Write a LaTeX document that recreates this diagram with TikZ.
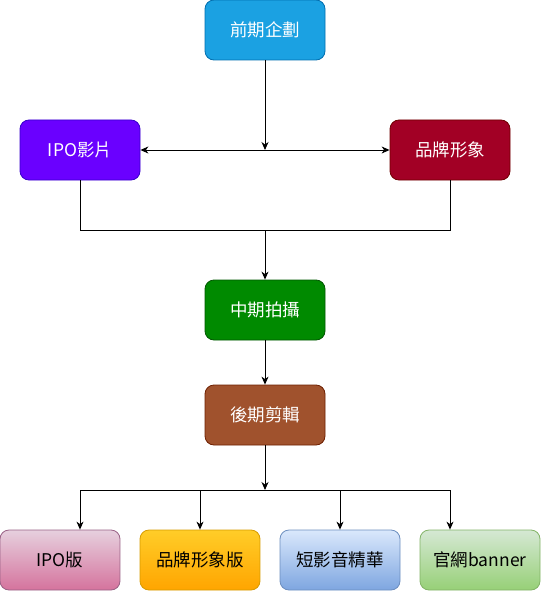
\documentclass[tikz,border=0pt]{standalone}
\usepackage{fontspec}
\setmainfont{Noto Sans CJK TC}
\usetikzlibrary{arrows.meta,calc}
\definecolor{c1f}{HTML}{1BA1E2}\definecolor{c1s}{HTML}{006EAF}
\definecolor{c2f}{HTML}{6A00FF}\definecolor{c2s}{HTML}{3700CC}
\definecolor{c3f}{HTML}{A20025}\definecolor{c3s}{HTML}{6F0000}
\definecolor{c4f}{HTML}{008A00}\definecolor{c4s}{HTML}{005700}
\definecolor{c5f}{HTML}{A0522D}\definecolor{c5s}{HTML}{6D1F00}
\definecolor{pkt}{HTML}{E6D0DE}\definecolor{pkb}{HTML}{D5739D}\definecolor{pks}{HTML}{996185}
\definecolor{ort}{HTML}{FFCD28}\definecolor{orb}{HTML}{FFA500}\definecolor{ors}{HTML}{D79B00}
\definecolor{blt}{HTML}{DAE8FC}\definecolor{blb}{HTML}{7EA6E0}\definecolor{bls}{HTML}{6C8EBF}
\definecolor{grt}{HTML}{D5E8D4}\definecolor{grb}{HTML}{97D077}\definecolor{grs}{HTML}{82B366}
\tikzset{
  box/.style={rounded corners=9pt, minimum width=120pt, minimum height=60pt,
    inner sep=0pt, font=\fontsize{17.5pt}{21pt}\selectfont, line width=0.8pt},
  dark/.style={box, text=white},
  light/.style={box, text=black},
  arr/.style={-{Stealth[length=8pt,width=7pt,inset=2.5pt]}, line width=0.9pt},
  ln/.style={line width=0.9pt}
}
\begin{document}
\begin{tikzpicture}[x=1pt,y=-1pt]
\useasboundingbox (0,0) rectangle (541,591);
\node[dark, fill=c1f, draw=c1s] (pre) at (265,30) {前期企劃};
\node[dark, fill=c2f, draw=c2s] (ipo) at (80,150) {IPO影片};
\node[dark, fill=c3f, draw=c3s] (brand) at (450,150) {品牌形象};
\node[dark, fill=c4f, draw=c4s] (mid) at (265,310) {中期拍攝};
\node[dark, fill=c5f, draw=c5s] (post) at (265,415) {後期剪輯};
\node[light, top color=pkt, bottom color=pkb, draw=pks] (b1) at (60,560) {IPO版};
\node[light, top color=ort, bottom color=orb, draw=ors] (b2) at (200,560) {品牌形象版};
\node[light, top color=blt, bottom color=blb, draw=bls] (b3) at (340,560) {短影音精華};
\node[light, top color=grt, bottom color=grb, draw=grs] (b4) at (480,560) {官網banner};
\coordinate (j1) at (265,150);
\coordinate (j2) at (265,230);
\coordinate (j3) at (265,490);
\coordinate (bL) at (80,490);
\coordinate (bR) at (450,490);
\coordinate (bs2) at (200,490);
\coordinate (bs3) at (340,490);
\draw[arr] (pre.south) -- (j1);
\draw[arr] (j1) -- (ipo.east);
\draw[arr] (j1) -- (brand.west);
\draw[ln] (ipo.south) |- (j2);
\draw[ln] (brand.south) |- (j2);
\draw[arr] (j2) -- (mid.north);
\draw[arr] (mid.south) -- (post.north);
\draw[arr] (post.south) -- (j3);
\draw[ln] (bL) -- (bR);
\draw[arr] (bL) -- (bL |- b1.north);
\draw[arr] (bs2) -- (b2.north);
\draw[arr] (bs3) -- (b3.north);
\draw[arr] (bR) -- (bR |- b4.north);
\end{tikzpicture}
\end{document}
